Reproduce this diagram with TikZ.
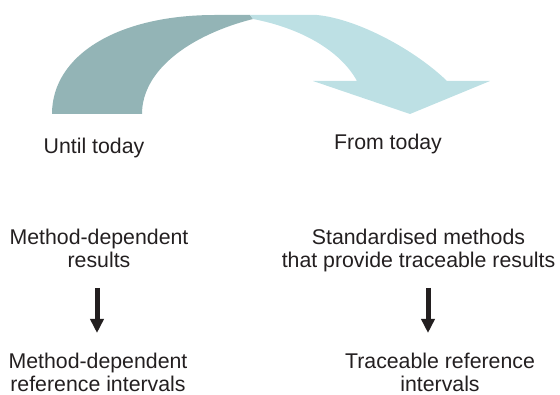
\documentclass[tikz,border=0pt]{standalone}
\usepackage{fontspec}
\setmainfont{Liberation Sans}
\usetikzlibrary{arrows.meta}
\definecolor{darkteal}{HTML}{93B4B6}
\definecolor{lightteal}{HTML}{BDE0E4}
\definecolor{ink}{HTML}{231F20}
\tikzset{
  lbl/.style={align=center, inner sep=0pt, text=ink, font=\fontsize{21.3}{23}\selectfont},
  downarr/.style={draw=ink, line width=5pt, -{Triangle[width=13pt,length=14pt]}}
}
\begin{document}
\begin{tikzpicture}[x=1pt,y=-1pt]
\useasboundingbox (0,0) rectangle (560,395);
% curved arrow, dark part
\fill[darkteal] (52,114) .. controls (52,55) and (118,15) .. (215,15) -- (250,15) -- (253,19)
  .. controls (190,35) and (142,70) .. (142,114) -- cycle;
% curved arrow, light part
\fill[lightteal] (250,15) -- (317,15) .. controls (358,19) and (415,50) .. (447,81)
  -- (490,81) -- (410,114) -- (313,81) -- (357,81)
  .. controls (340,50) and (300,28) .. (253,19) -- cycle;
% labels
\node[lbl] (until) at (94,147.7) {Until today};
\node[lbl] (from) at (388,143.7) {From today};
\node[lbl] (mdr) at (99,248) {Method-dependent\\results};
\node[lbl] (smr) at (418.5,250) {Standardised methods\\that provide traceable results};
\node[lbl] (mdri) at (98,372) {Method-dependent\\reference intervals};
\node[lbl] (tri) at (440,372) {Traceable reference\\intervals};
% arrows
\coordinate (la1) at (97,288);
\coordinate (la2) at (97,333);
\coordinate (ra1) at (428,288);
\coordinate (ra2) at (428,333);
\draw[downarr] (la1) -- (la2);
\draw[downarr] (ra1) -- (ra2);
\end{tikzpicture}
\end{document}
